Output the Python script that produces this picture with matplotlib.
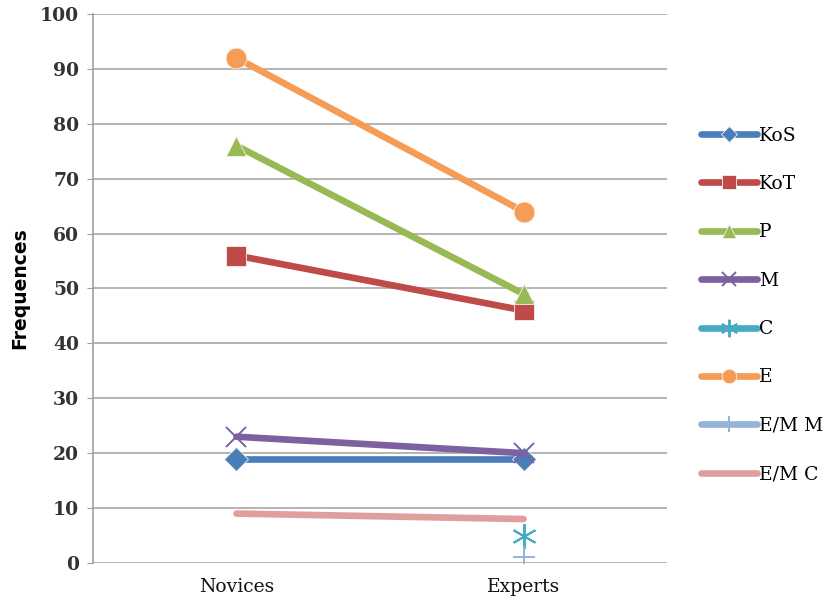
import numpy as np
import matplotlib
matplotlib.use("Agg")
import matplotlib.pyplot as plt

# Frequencies by group
groups = ["Novices", "Experts"]
series_names = ["KoS", "KoT", "P", "M", "C", "E", "E/M M", "E/M C"]
kos = [19, 19]
kot = [56, 46]
p = [76, 49]
m = [23, 20]
c = [np.nan, 5]
e = [92, 64]
em_m = [np.nan, 1]
em_c = [9, 8]
yticks = list(range(0, 101, 10))

values = [kos, kot, p, m, c, e, em_m, em_c]
colors = ["#4a7ebb", "#be4b48", "#98b954", "#7d60a0", "#46aac5",
          "#f59d56", "#95b3d7", "#e09f9d"]
markers = ["D", "s", "^", "x", (6, 2, 0), "o", "+", None]
msizes = [12, 14, 14, 14, 18, 15, 16, 0]

serif = "DejaVu Serif"

fig = plt.figure(figsize=(8.37, 6.06), dpi=100)
ax = fig.add_axes([0.111, 0.071, 0.686, 0.906])

x = np.arange(len(groups))
for vals, name, col, mk, ms in zip(values, series_names, colors, markers, msizes):
    if mk is None:
        ax.plot(x, vals, color=col, lw=4.8, solid_capstyle="round", label=name)
    elif mk in ("x", "+") or isinstance(mk, tuple):
        ax.plot(x, vals, color=col, lw=4.8, solid_capstyle="round", marker=mk,
                markersize=ms, markeredgewidth=1.4, label=name)
    else:
        ax.plot(x, vals, color=col, lw=4.8, solid_capstyle="round", marker=mk,
                markersize=ms, markerfacecolor=col, markeredgecolor="#f2f2f2",
                markeredgewidth=0.6, label=name)

ax.set_xlim(-0.5, 1.5)
ax.set_ylim(0, 100)
ax.set_yticks(yticks)
ax.set_xticks(x)
ax.set_xticklabels(groups, family=serif, fontsize=13.5, color="#111111")
for lbl in ax.get_yticklabels():
    lbl.set_family(serif)
    lbl.set_fontweight("bold")
    lbl.set_fontsize(13.5)
    lbl.set_color("#333333")
ax.tick_params(axis="x", length=0, pad=11)
ax.tick_params(axis="y", length=4, color="#a0a0a0", pad=6)
ax.yaxis.grid(True, color="#a8a8a8", lw=1.2)
ax.set_axisbelow(True)
for side in ["top", "right", "bottom"]:
    ax.spines[side].set_visible(False)
ax.spines["left"].set_color("#a0a0a0")
ax.spines["left"].set_linewidth(1.2)

ax.set_ylabel("Frequences", family="DejaVu Sans", fontweight="bold",
              fontsize=13.5, labelpad=8)

leg = ax.legend(loc="center left", bbox_to_anchor=(1.03, 0.47), frameon=False,
                prop={"family": serif, "size": 13.5},
                handlelength=3.0, handletextpad=0.1, labelspacing=1.62,
                markerscale=0.7)

fig.savefig("out.png", dpi=100)
